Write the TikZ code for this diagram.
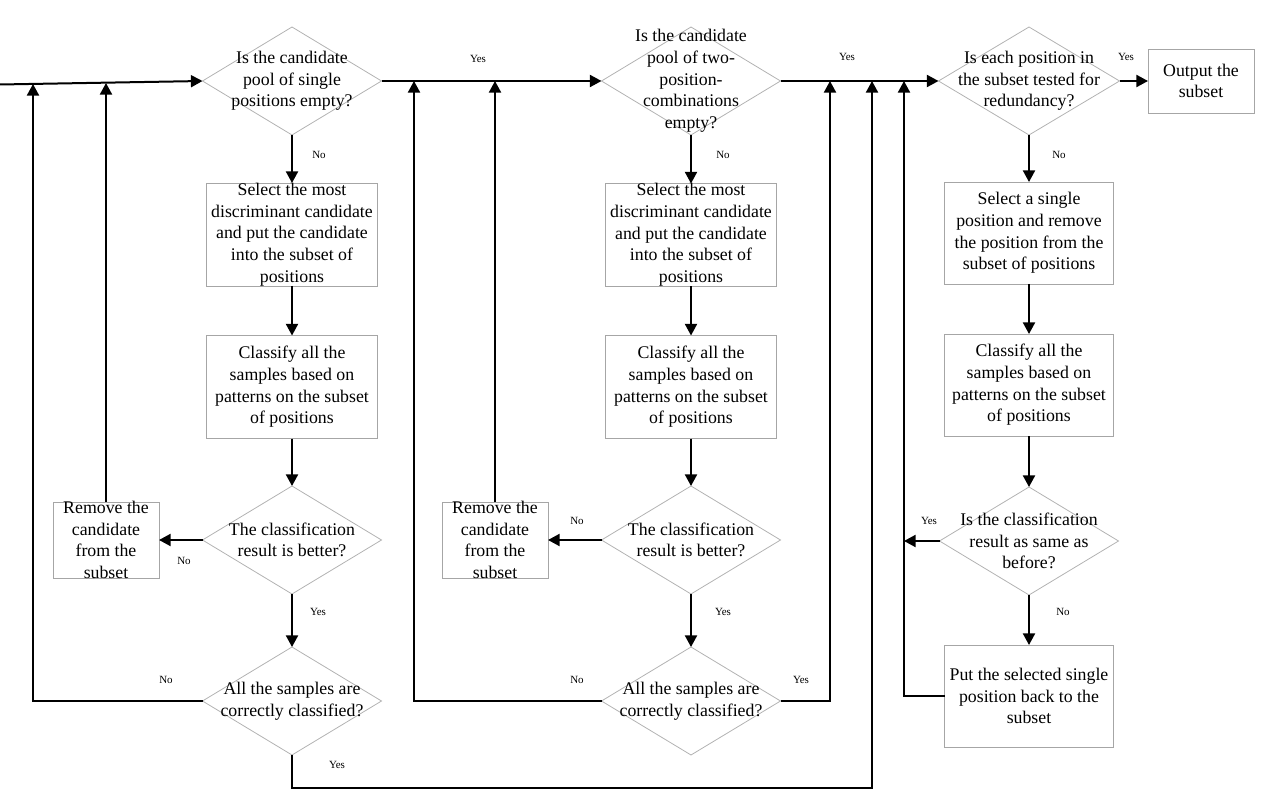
\documentclass[tikz,border=0pt]{standalone}
\usepackage{fontspec}
\setmainfont{Liberation Serif}
\usetikzlibrary{shapes.geometric,arrows.meta}

\begin{document}
\begin{tikzpicture}[x=0.5pt, y=-0.5pt, line width=1pt, >={Triangle[length=5.8pt,width=6pt]},
  decision/.style={diamond, draw=gray!60, line width=0.4pt, inner sep=0pt, outer sep=0pt,
    minimum width=89.5pt, minimum height=54pt},
  block/.style={rectangle, draw=gray!70, line width=0.4pt, inner sep=0pt, outer sep=0pt,
    minimum width=85.5pt, minimum height=51.5pt},
  small/.style={block, minimum width=53pt, minimum height=38pt},
  txt/.style={align=center, inner sep=0pt, font=\fontsize{8.9}{10.85}\selectfont},
  lab/.style={inner sep=0pt, font=\fontsize{5.5}{6}\selectfont}]
  \useasboundingbox (0,0) rectangle (1263,807);
  % first column: single positions
  \node (d1) [decision, label={[txt]center:Is the candidate\\pool of single\\positions empty?}] at (292,81) {};
  \node (b1) [block, label={[txt]center:Select the most\\discriminant candidate\\and put the candidate\\into the subset of\\positions}] at (292,234.5) {};
  \node (b2) [block, label={[txt]center:Classify all the\\samples based on\\patterns on the subset\\of positions}] at (292,387) {};
  \node (d2) [decision, label={[txt]center:The classification\\result is better?}] at (292,540) {};
  \node (r1) [small, label={[txt]center:Remove the\\candidate\\from the\\subset}] at (106,540) {};
  \node (d3) [decision, label={[txt]center:All the samples are\\correctly classified?}] at (292,701) {};
  % second column: two-position-combinations
  \node (d4) [decision, label={[txt]center:Is the candidate\\pool of two-\\position-\\combinations\\empty?}] at (691,81) {};
  \node (b3) [block, label={[txt]center:Select the most\\discriminant candidate\\and put the candidate\\into the subset of\\positions}] at (691,235) {};
  \node (b4) [block, label={[txt]center:Classify all the\\samples based on\\patterns on the subset\\of positions}] at (691,387) {};
  \node (d5) [decision, label={[txt]center:The classification\\result is better?}] at (691,540) {};
  \node (r2) [small, label={[txt]center:Remove the\\candidate\\from the\\subset}] at (495,540) {};
  \node (d6) [decision, label={[txt]center:All the samples are\\correctly classified?}] at (691,701) {};
  % third column: redundancy
  \node (d7) [decision, minimum width=90.5pt, label={[txt]center:Is each position in\\the subset tested for\\redundancy?}] at (1029,81) {};
  \node (out) [small, minimum height=32pt, label={[txt]center:Output the\\subset}] at (1201,81) {};
  \node (b5) [block, minimum width=84.5pt, minimum height=51pt, label={[txt]center:Select a single\\position and remove\\the position from the\\subset of positions}] at (1029,233) {};
  \node (b6) [block, minimum width=84.5pt, minimum height=51pt, label={[txt]center:Classify all the\\samples based on\\patterns on the subset\\of positions}] at (1029,385) {};
  \node (d8) [decision, label={[txt]center:Is the classification\\result as same as\\before?}] at (1029,541) {};
  \node (b7) [block, minimum width=84.5pt, minimum height=51pt, label={[txt]center:Put the selected single\\position back to the\\subset}] at (1029,696) {};
  % junctions
  \coordinate (in) at (0,84.5);
  \coordinate (j1) at (33,84);
  \coordinate (j2) at (106,83);
  \coordinate (j3) at (414,81);
  \coordinate (j4) at (495,81);
  \coordinate (j5) at (830,81);
  \coordinate (j6) at (872,81);
  \coordinate (j7) at (904,81);
  \coordinate (j8) at (904,541);
  \coordinate (corner) at (872,788);
  % labels
  \node (y1) [lab] at (478,59) {Yes};
  \node (n1) [lab] at (319,155) {No};
  \node (n2) [lab] at (184,561) {No};
  \node (y2) [lab] at (318,612) {Yes};
  \node (n3) [lab] at (166,680) {No};
  \node (y3) [lab] at (337,765) {Yes};
  \node (n4) [lab] at (723,155) {No};
  \node (n5) [lab] at (577,521) {No};
  \node (y5) [lab] at (723,612) {Yes};
  \node (n6) [lab] at (577,680) {No};
  \node (y6) [lab] at (801,680) {Yes};
  \node (y4) [lab] at (847,57) {Yes};
  \node (y7) [lab] at (1126,57) {Yes};
  \node (n7) [lab] at (1059,155) {No};
  \node (y8) [lab] at (929,521) {Yes};
  \node (n8) [lab] at (1063,612) {No};
  % connectors
  \draw [->] (in) -- (d1.west);
  \draw [->] (d1.east) -- (d4.west);
  \draw [->] (d4.east) -- (d7.west);
  \draw [->] (d7.east) -- (out.west);
  \draw [->] (d1) -- (b1);
  \draw [->] (b1) -- (b2);
  \draw [->] (b2) -- (d2);
  \draw [->] (d2) -- (d3);
  \draw [->] (d2.west) -- (r1.east);
  \draw [->] (r1.north) -- (j2);
  \draw [->] (d3.west) -| (j1);
  \draw [->] (d3.south) |- (corner) -- (j6);
  \draw [->] (d4) -- (b3);
  \draw [->] (b3) -- (b4);
  \draw [->] (b4) -- (d5);
  \draw [->] (d5) -- (d6);
  \draw [->] (d5.west) -- (r2.east);
  \draw [->] (r2.north) -- (j4);
  \draw [->] (d6.west) -| (j3);
  \draw [->] (d6.east) -| (j5);
  \draw [->] (d7) -- (b5);
  \draw [->] (b5) -- (b6);
  \draw [->] (b6) -- (d8);
  \draw [->] (d8) -- (b7);
  \draw [->] (d8.west) -- (j8);
  \draw [->] (b7.west) -| (j7);
\end{tikzpicture}
\end{document}
